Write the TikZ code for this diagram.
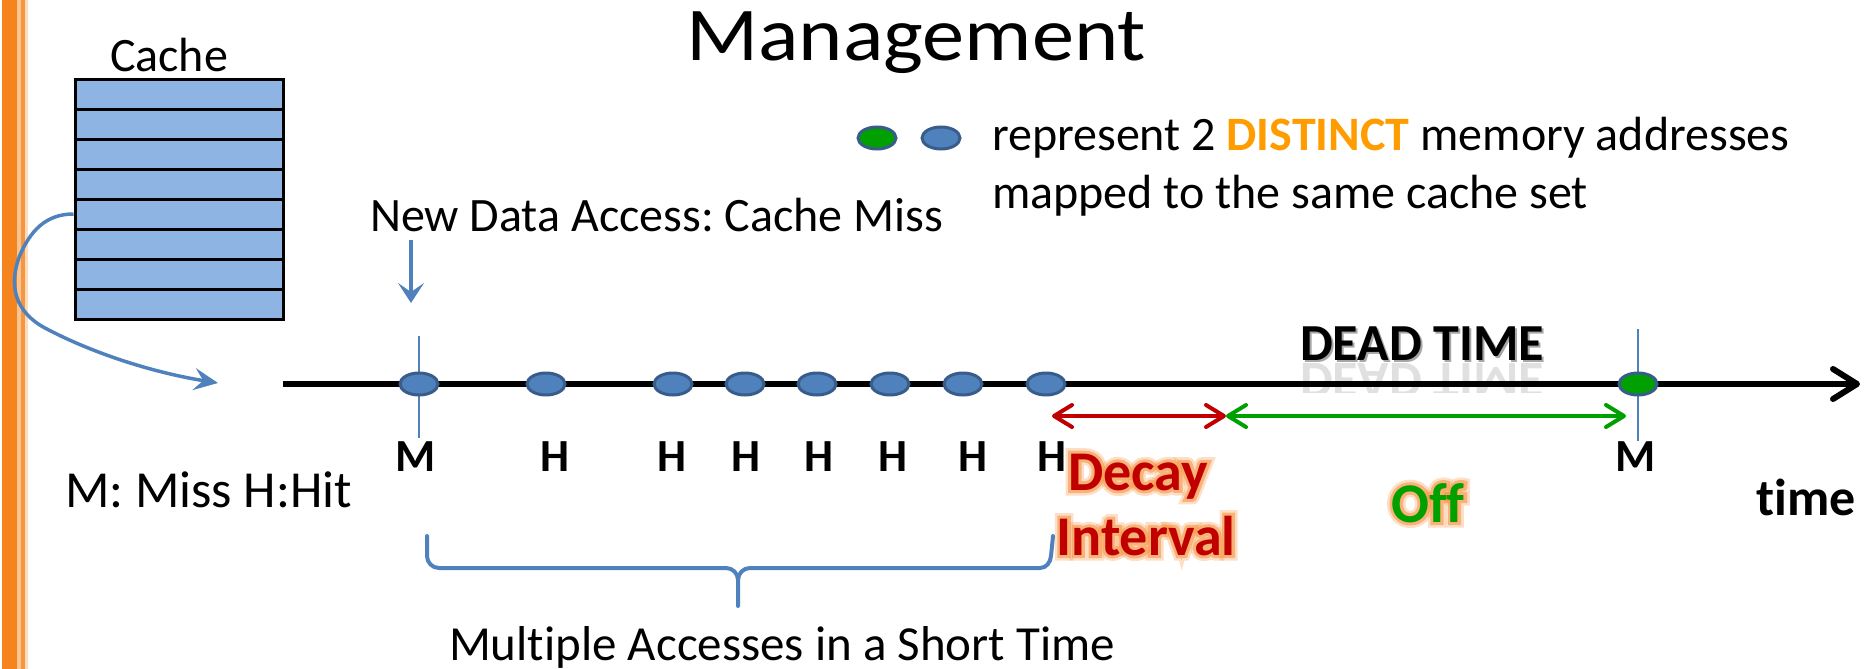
\documentclass[tikz,border=0pt]{standalone}
\usepackage{fontspec}
\setmainfont{Carlito}[Ligatures=NoCommon]
\newfontface\glowwide{Carlito Bold}[FakeBold=20, Ligatures=NoCommon]
\newfontface\glownarrow{Carlito Bold}[FakeBold=11, Ligatures=NoCommon]
\usetikzlibrary{arrows.meta,shapes.geometric,calc}

\definecolor{officeblue}{HTML}{4F81BD}
\definecolor{ovalborder}{HTML}{385D8A}
\definecolor{cachefill}{HTML}{8EB4E3}
\definecolor{barorange}{HTML}{F5841F}
\definecolor{barpale}{HTML}{FBC592}
\definecolor{decayred}{HTML}{C00000}
\definecolor{offgreen}{HTML}{00A000}
\definecolor{glow}{HTML}{F79646}
\definecolor{distinct}{HTML}{FF9C00}

\newcommand\fs[1]{\fontsize{#1}{#1}\selectfont}

% bold label with a soft orange halo drawn as thickened copies underneath
\newcommand\glowtext[5]{%
  \node[glowlbl, font=\fs{56}\glowwide, text=glow, opacity=0.3] at (#2,#3) {#5};
  \node[glowlbl, font=\fs{56}\glownarrow, text=glow, opacity=0.6] at (#2,#3) {#5};
  \node[glowlbl, text=#4] (#1) at (#2,#3) {#5};
}

\begin{document}
\frenchspacing
\begin{tikzpicture}[x=1pt,y=-1pt,
  txt/.style={inner sep=0pt, outer sep=0pt},
  cacherow/.style={draw=black, line width=3pt, fill=cachefill,
    minimum width=208pt, minimum height=30pt, inner sep=0pt},
  oval/.style={ellipse, draw=ovalborder, line width=3pt, fill=officeblue,
    minimum width=38pt, minimum height=22pt, inner sep=0pt},
  greenoval/.style={oval, fill=offgreen},
  tickline/.style={officeblue, line width=2.5pt},
  lbl/.style={txt, anchor=base, font=\fs{46}\bfseries},
  glowlbl/.style={txt, anchor=base, font=\fs{56}\bfseries},
  plain/.style={txt, anchor=base west, font=\fs{48}},
  bluearrow/.style={officeblue, line width=3.5pt},
]
\useasboundingbox (0,0) rectangle (1868,669);

% orange page edge
\fill[barorange] (2,0) rectangle (17,669);
\fill[barpale] (17,0) rectangle (21,669);
\fill[barorange!85] (21,0) rectangle (25,669);
\fill[barpale!60] (25,0) rectangle (28,669);

% title
\node[txt, anchor=base, font=\fs{76}] (title) at (916,60) {\scalebox{1.11}[1]{Management}};

% cache block
\node[txt, anchor=base, font=\fs{48}] (cachelbl) at (169,71) {Cache};
\foreach \i in {1,...,8}{
  \node[cacherow] (row\i) at (179,{79+30*(\i-0.5)}) {};
}

% legend
\node[greenoval] (leg1) at (877,138) {};
\node[oval] (leg2) at (941,138) {};
\node[plain] (legtxt1) at (992,150) {represent 2 {\bfseries\color{distinct}DISTINCT} memory addresses};
\node[plain] (legtxt2) at (992,208) {mapped to the same cache set};

% access annotation
\node[plain] (access) at (370,231) {New Data Access: Cache Miss};
\coordinate (dntop) at (411,240);
\coordinate (dnbot) at (411,303);
\draw[bluearrow, -{Stealth[length=20pt,width=26pt,inset=9pt]}] (dntop) -- (dnbot);

% dead time with shadow and reflection
\begin{scope}
  \clip (1280,363) rectangle (1570,392);
  \begin{scope}[shift={(1422,363)}, yscale=-1]
    \node[glowlbl, font=\fs{52}\bfseries, transform shape, text=black, opacity=0.12] at (0,0) {DEAD TIME};
  \end{scope}
\end{scope}
\node[glowlbl, font=\fs{52}\bfseries, text=black, opacity=0.35] at (1424,362) {DEAD TIME};
\node[glowlbl, font=\fs{52}\bfseries, text=black] (dead) at (1422,360) {DEAD TIME};

% time axis
\coordinate (axl) at (283,384);
\coordinate (axr) at (1860,384);
\draw[line width=6pt, -{Straight Barb[length=24pt,width=30pt,round]}] (axl) -- (axr);

% curved pointer from a cache line to the axis
\coordinate (cachein) at (218,383);
\draw[bluearrow, -{Stealth[length=24pt,width=22pt,inset=9pt]}]
  (row5.west) .. controls (45,214) and (30,232) .. (20,255)
  .. controls (8,285) and (15,312) .. (45,328)
  .. controls (90,352) and (150,372) .. (cachein);

% tick lines through the two misses
\draw[tickline] (419,336) -- (419,438);
\draw[tickline] (1638,329) -- (1638,441);

% accesses on the axis
\foreach \n/\x in {1/419,2/546,3/673,4/745,5/817,6/890,7/963,8/1046}{
  \node[oval] (o\n) at (\x,384) {};
}
\node[greenoval] (o9) at (1638,384) {};

% access labels
\node[lbl] (m1) at (416,471) {M};
\foreach \n/\x in {2/555,3/672,4/746,5/819,6/893,7/973,8/1052}{
  \node[lbl] (h\n) at (\x,471) {H};
}
\node[lbl] (m2) at (1636,471) {M};

% decay and off intervals
\coordinate (da) at (1052,416);
\coordinate (db) at (1226,416);
\coordinate (dc) at (1626,416);
\draw[decayred, line width=4pt,
  {Straight Barb[length=18pt,width=22pt,round]}-{Straight Barb[length=18pt,width=22pt,round]}] (da) -- (db);
\draw[offgreen, line width=4pt,
  {Straight Barb[length=18pt,width=22pt,round]}-{Straight Barb[length=18pt,width=22pt,round]}] (db) -- (dc);

\glowtext{decay}{1138}{490}{decayred}{Decay}
\glowtext{interval}{1146}{555}{decayred}{Interval}
\glowtext{off}{1428}{522}{offgreen}{Off}

\node[glowlbl, font=\fs{52}\bfseries] (time) at (1806,515) {time};

% key
\node[plain, font=\fs{52}] (key) at (65,507) {M: Miss H:Hit};

% brace under the hits
\draw[officeblue, line width=4pt, line cap=round, line join=round]
  (427,536) -- (427,556) to[out=-90,in=180] (439,568) -- (726,568)
  to[out=0,in=90] (738,580) -- (738,606);
\draw[officeblue, line width=4pt, line cap=round, line join=round]
  (738,580) to[out=90,in=180] (750,568) -- (1040,568)
  to[out=0,in=-95] (1051,556) -- (1053,536);
\node[plain, font=\fs{49}] (multi) at (449,660) {Multiple Accesses in a Short Time};
\end{tikzpicture}
\end{document}
